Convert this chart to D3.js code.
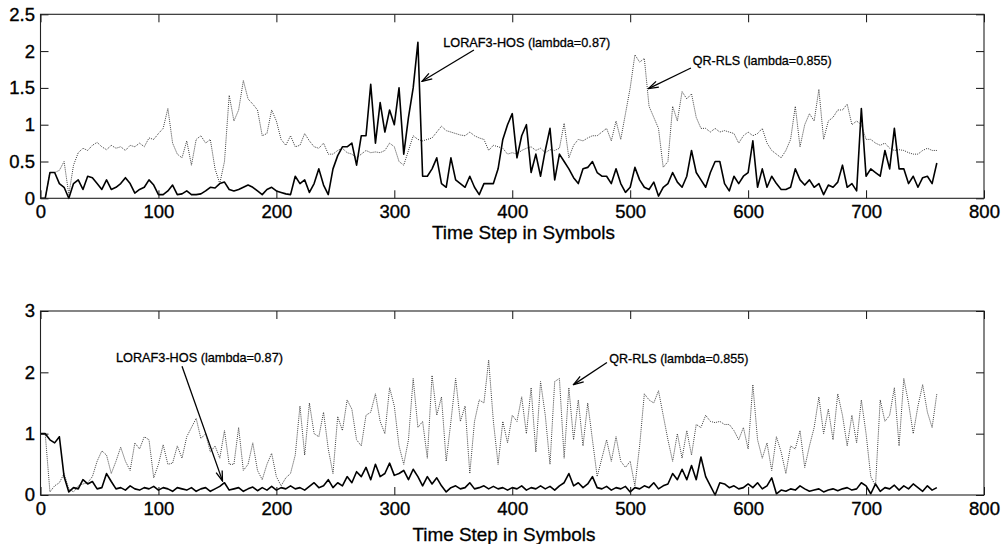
<!DOCTYPE html>
<html><head><meta charset="utf-8">
<script src="https://cdn.jsdelivr.net/npm/d3@7"></script>
<style>
html,body{margin:0;padding:0;background:#fff;}
svg{display:block;font-family:"Liberation Sans",Arial,Helvetica,sans-serif;}
</style></head><body>
<svg id="chart" width="1003" height="544"></svg>
<script>
// ---------- data ----------
const timeSteps = d3.range(0, 761, 4);   // time step of each sample below
const xTicks = [0, 100, 200, 300, 400, 500, 600, 700, 800];
const topYTicks = [0, 0.5, 1, 1.5, 2, 2.5];
const bottomYTicks = [0, 1, 2, 3];

const topLoraf = [
 0,0,0.35,0.35,0.2,0.15,0,0.2,0.25,0.12,
 0.3,0.28,0.2,0.12,0.25,0.12,0.15,0.2,0.28,0.2,
 0.07,0.12,0.15,0.25,0.18,0.05,0.05,0.1,0.18,0.05,
 0.06,0.1,0.05,0.05,0.06,0.1,0.15,0.14,0.2,0.22,
 0.12,0.1,0.12,0.15,0.18,0.15,0.1,0.05,0.12,0.15,
 0.1,0.08,0.06,0.05,0.3,0.2,0.25,0.08,0.2,0.4,
 0.18,0.05,0.4,0.58,0.7,0.7,0.75,0.45,0.85,0.85,
 1.55,0.75,1.3,0.9,1.2,1.0,1.5,0.6,1.1,1.5,
 2.12,0.3,0.3,0.4,0.55,0.2,0.15,0.55,0.25,0.2,
 0.15,0.3,0.15,0.05,0.2,0.2,0.2,0.4,0.8,1.0,
 1.15,0.55,0.85,1.0,0.35,0.6,0.3,0.65,0.95,0.25,
 0.6,0.5,0.4,0.28,0.2,0.4,0.42,0.5,0.35,0.3,
 0.3,0.2,0.4,0.2,0.08,0.15,0.42,0.25,0.15,0.12,
 0.22,0.03,0.15,0.2,0.35,0.22,0.15,0.3,0.65,0.35,
 0.25,0.15,0.35,0.5,0.5,0.2,0.1,0.3,0.2,0.3,
 0.35,0.78,0.15,0.4,0.15,0.3,0.2,0.12,0.12,0.15,
 0.4,0.25,0.18,0.25,0.15,0.2,0.05,0.18,0.15,0.22,
 0.45,0.15,0.2,0.1,1.22,0.3,0.4,0.35,0.3,0.65,
 0.4,0.95,0.4,0.4,0.2,0.3,0.15,0.28,0.3,0.2,
 0.48
];
const topQr = [
 0,0,0.35,0.35,0.38,0.5,0.05,0.45,0.62,0.68,
 0.65,0.72,0.76,0.7,0.66,0.72,0.68,0.7,0.65,0.72,
 0.7,0.75,0.7,0.82,0.8,0.88,0.95,1.22,0.75,0.6,
 0.55,0.78,0.45,0.8,0.85,0.75,0.8,0.4,0.2,0.5,
 1.4,1.05,1.2,1.6,1.35,1.28,1.2,0.85,0.88,1.2,
 1.05,0.8,0.72,0.85,0.7,0.72,0.88,0.78,0.7,0.68,
 0.75,0.6,0.6,0.65,0.68,0.62,0.6,0.55,0.6,0.65,
 0.62,0.63,0.62,0.65,0.75,0.7,0.5,0.45,0.65,0.85,
 0.8,0.78,0.8,0.82,0.9,0.98,0.92,0.9,0.88,0.86,
 0.85,0.9,0.85,0.82,0.8,0.65,0.72,0.7,0.68,0.6,
 0.62,0.6,0.65,0.68,0.7,0.65,0.68,0.62,0.66,0.65,
 0.68,1.02,0.55,0.72,0.8,0.78,0.82,0.85,0.85,0.9,
 0.95,0.78,1.05,0.8,1.15,1.5,1.95,1.85,1.9,1.25,
 1.1,0.95,0.42,0.5,1.25,1.05,1.45,1.35,1.42,1.1,
 0.95,0.95,0.9,0.95,0.9,0.92,0.9,0.88,0.75,0.85,
 0.9,0.85,0.88,0.95,0.75,0.65,0.6,0.55,0.65,0.8,
 1.25,0.7,1.0,1.15,1.05,1.48,0.8,1.05,1.1,1.2,
 1.2,1.28,1.0,1.05,1.0,0.8,0.8,0.75,0.72,0.75,
 0.68,0.65,0.66,0.65,0.62,0.6,0.6,0.65,0.68,0.65,
 0.65
];
const bottomLoraf = [
 1.0,1.0,0.9,0.85,0.95,0.3,0.05,0.12,0.1,0.25,
 0.18,0.22,0.1,0.12,0.35,0.22,0.1,0.12,0.08,0.15,
 0.1,0.08,0.12,0.1,0.14,0.08,0.12,0.1,0.06,0.12,
 0.1,0.08,0.12,0.06,0.1,0.12,0.06,0.1,0.14,0.2,
 0.08,0.1,0.12,0.06,0.1,0.13,0.07,0.12,0.08,0.14,
 0.08,0.12,0.1,0.15,0.1,0.12,0.08,0.14,0.2,0.12,
 0.15,0.25,0.12,0.2,0.15,0.3,0.2,0.38,0.3,0.45,
 0.25,0.5,0.3,0.35,0.52,0.32,0.35,0.4,0.25,0.42,
 0.3,0.15,0.3,0.18,0.28,0.15,0.05,0.12,0.15,0.1,
 0.12,0.2,0.1,0.12,0.15,0.1,0.14,0.1,0.12,0.08,
 0.12,0.1,0.15,0.08,0.12,0.1,0.15,0.1,0.14,0.08,
 0.15,0.2,0.35,0.15,0.2,0.12,0.18,0.3,0.12,0.1,
 0.14,0.08,0.12,0.1,0.14,0.05,0.12,0.1,0.15,0.12,
 0.2,0.1,0.15,0.18,0.35,0.25,0.42,0.25,0.48,0.25,
 0.62,0.3,0.15,0.0,0.2,0.18,0.12,0.15,0.1,0.12,
 0.18,0.12,0.2,0.1,0.15,0.28,0.02,0.08,0.06,0.1,
 0.08,0.15,0.1,0.06,0.08,0.1,0.05,0.08,0.1,0.07,
 0.1,0.12,0.08,0.1,0.2,0.15,0.02,0.18,0.06,0.12,
 0.1,0.16,0.08,0.15,0.1,0.18,0.12,0.06,0.15,0.08,
 0.12
];
const bottomQr = [
 1.0,1.0,0.05,0.15,0.2,0.35,0.1,0.05,0.15,0.18,
 0.2,0.3,0.55,0.72,0.65,0.35,0.55,0.78,0.55,0.4,
 0.85,0.75,0.95,0.9,0.28,0.5,0.82,0.5,0.52,0.8,
 0.6,0.95,1.1,1.25,0.92,1.0,0.7,0.8,0.6,1.05,
 0.5,0.5,1.1,0.4,0.5,0.85,0.4,0.25,0.5,0.68,
 0.3,0.15,0.28,0.35,0.65,1.45,0.65,1.5,1.0,0.95,
 1.35,0.75,0.35,1.28,1.05,1.55,1.4,0.9,0.8,1.3,
 1.35,1.65,1.2,1.0,1.75,1.45,0.8,0.5,0.9,1.9,
 1.1,1.2,0.6,1.95,1.3,1.6,0.55,1.2,1.9,1.2,
 1.45,0.35,1.2,1.55,1.5,2.2,1.2,0.5,1.2,0.85,
 1.3,1.2,1.6,1.0,1.75,0.7,1.85,1.3,0.5,1.85,
 1.9,0.6,1.75,0.9,1.55,0.8,1.5,0.9,0.3,0.6,
 0.9,0.55,0.95,0.55,0.45,0.55,0.15,0.8,1.65,1.55,
 1.5,1.7,1.3,0.9,0.55,1.0,0.6,1.05,0.65,1.15,
 1.1,1.3,1.2,1.18,1.2,1.15,1.15,1.05,0.9,1.1,
 0.75,1.8,0.9,0.6,0.85,0.4,0.95,0.7,0.35,0.8,
 0.75,1.05,0.45,0.8,1.1,1.6,1.0,1.4,0.9,1.65,
 1.3,0.8,1.3,0.85,1.55,1.0,0.3,0.15,1.55,1.2,
 1.3,1.75,0.8,1.9,1.5,1.0,1.45,1.8,1.35,1.1,
 1.65
];

const xLabel = "Time Step in Symbols";
const lorafLabel = "LORAF3-HOS (lambda=0.87)";
const qrLabel = "QR-RLS (lambda=0.855)";

// annotations in data units: text anchor, arrow start, arrow tip
const topNotes = [
  {text: lorafLabel, tx: 341.5, ty: 2.06, sx: 367.5, sy: 2.015, ex: 323.5, ey: 1.59},
  {text: qrLabel, tx: 553, ty: 1.81, sx: 551.5, sy: 1.77, ex: 515.5, ey: 1.49}
];
const bottomNotes = [
  {text: lorafLabel, tx: 64, ty: 2.17, sx: 120, sy: 2.1, ex: 154.3, ey: 0.23},
  {text: qrLabel, tx: 482.3, ty: 2.145, sx: 480.3, sy: 2.16, ex: 452, ey: 1.8}
];

// ---------- drawing ----------
const svg = d3.select("#chart");
const x = d3.scaleLinear().domain([0, 800]).range([40.5, 984]);

const defs = svg.append("defs");
defs.append("marker")
  .attr("id", "arrow").attr("viewBox", "-1 -5 12 10")
  .attr("refX", 10).attr("refY", 0)
  .attr("markerWidth", 12).attr("markerHeight", 10)
  .attr("markerUnits", "userSpaceOnUse").attr("orient", "auto")
  .append("path").attr("d", "M0,-3.2L10,0L0,3.2")
  .attr("fill", "none").attr("stroke", "#000").attr("stroke-width", 1.3);

function drawPanel(cfg) {
  const y = d3.scaleLinear().domain(cfg.yDomain).range(cfg.yRange);
  const g = svg.append("g");
  const [yb, yt] = cfg.yRange;

  const line = d3.line().x((d, i) => x(timeSteps[i])).y(d => y(d));

  g.append("path").datum(cfg.qr)
    .attr("d", line).attr("fill", "none")
    .attr("stroke", "#3c3c3c").attr("stroke-width", 1)
    .attr("stroke-dasharray", "1,1.1");

  g.append("path").datum(cfg.loraf)
    .attr("d", line).attr("fill", "none")
    .attr("stroke", "#000").attr("stroke-width", 1.6)
    .attr("stroke-linejoin", "round");

  const fmt = d => String(d);
  const ax = g.append("g").attr("transform", `translate(0,${yb})`)
    .call(d3.axisBottom(x).tickValues(xTicks).tickSize(-8).tickSizeOuter(0).tickPadding(6.5).tickFormat(fmt));
  const axT = g.append("g").attr("transform", `translate(0,${yt})`)
    .call(d3.axisTop(x).tickValues(xTicks).tickSize(-8).tickSizeOuter(0).tickFormat(""));
  const ay = g.append("g").attr("transform", `translate(${x(0)},0)`)
    .call(d3.axisLeft(y).tickValues(cfg.yTicks).tickSize(-8).tickSizeOuter(0).tickPadding(5.5).tickFormat(fmt));
  const ayR = g.append("g").attr("transform", `translate(${x(800)},0)`)
    .call(d3.axisRight(y).tickValues(cfg.yTicks).tickSize(-8).tickSizeOuter(0).tickFormat(""));

  [ax, axT, ay, ayR].forEach(a => {
    a.select(".domain").remove();
    a.selectAll(".tick line").attr("stroke", "#111").attr("stroke-width", 1);
    a.selectAll("text").attr("font-size", 18.5).attr("fill", "#000")
      .attr("stroke", "#000").attr("stroke-width", 0.35)
      .attr("font-family", '"Liberation Sans", Arial, sans-serif');
  });

  g.append("rect")
    .attr("x", x(0)).attr("y", yt)
    .attr("width", x(800) - x(0)).attr("height", yb - yt)
    .attr("fill", "none").attr("stroke", "#222").attr("stroke-width", 1.1);

  g.append("text")
    .attr("x", cfg.labelX).attr("y", cfg.labelY)
    .attr("text-anchor", "middle").attr("font-size", 18.5).attr("fill", "#000")
    .attr("stroke", "#000").attr("stroke-width", 0.3)
    .attr("textLength", 183).attr("lengthAdjust", "spacingAndGlyphs")
    .text(xLabel);

  cfg.notes.forEach(n => {
    g.append("text")
      .attr("x", x(n.tx)).attr("y", y(n.ty))
      .attr("font-size", 13).attr("fill", "#000")
      .attr("stroke", "#000").attr("stroke-width", 0.3)
      .attr("textLength", n.text === lorafLabel ? 167 : 139)
      .attr("lengthAdjust", "spacingAndGlyphs")
      .text(n.text);
    g.append("line")
      .attr("x1", x(n.sx)).attr("y1", y(n.sy))
      .attr("x2", x(n.ex)).attr("y2", y(n.ey))
      .attr("stroke", "#000").attr("stroke-width", 1.3)
      .attr("marker-end", "url(#arrow)");
  });
}

drawPanel({
  yDomain: [0, 2.5], yRange: [198.3, 14.3], yTicks: topYTicks,
  loraf: topLoraf, qr: topQr, labelX: 523.5, labelY: 239.3, notes: topNotes
});
drawPanel({
  yDomain: [0, 3], yRange: [495, 311], yTicks: bottomYTicks,
  loraf: bottomLoraf, qr: bottomQr, labelX: 504, labelY: 540.5, notes: bottomNotes
});
</script>
</body></html>
